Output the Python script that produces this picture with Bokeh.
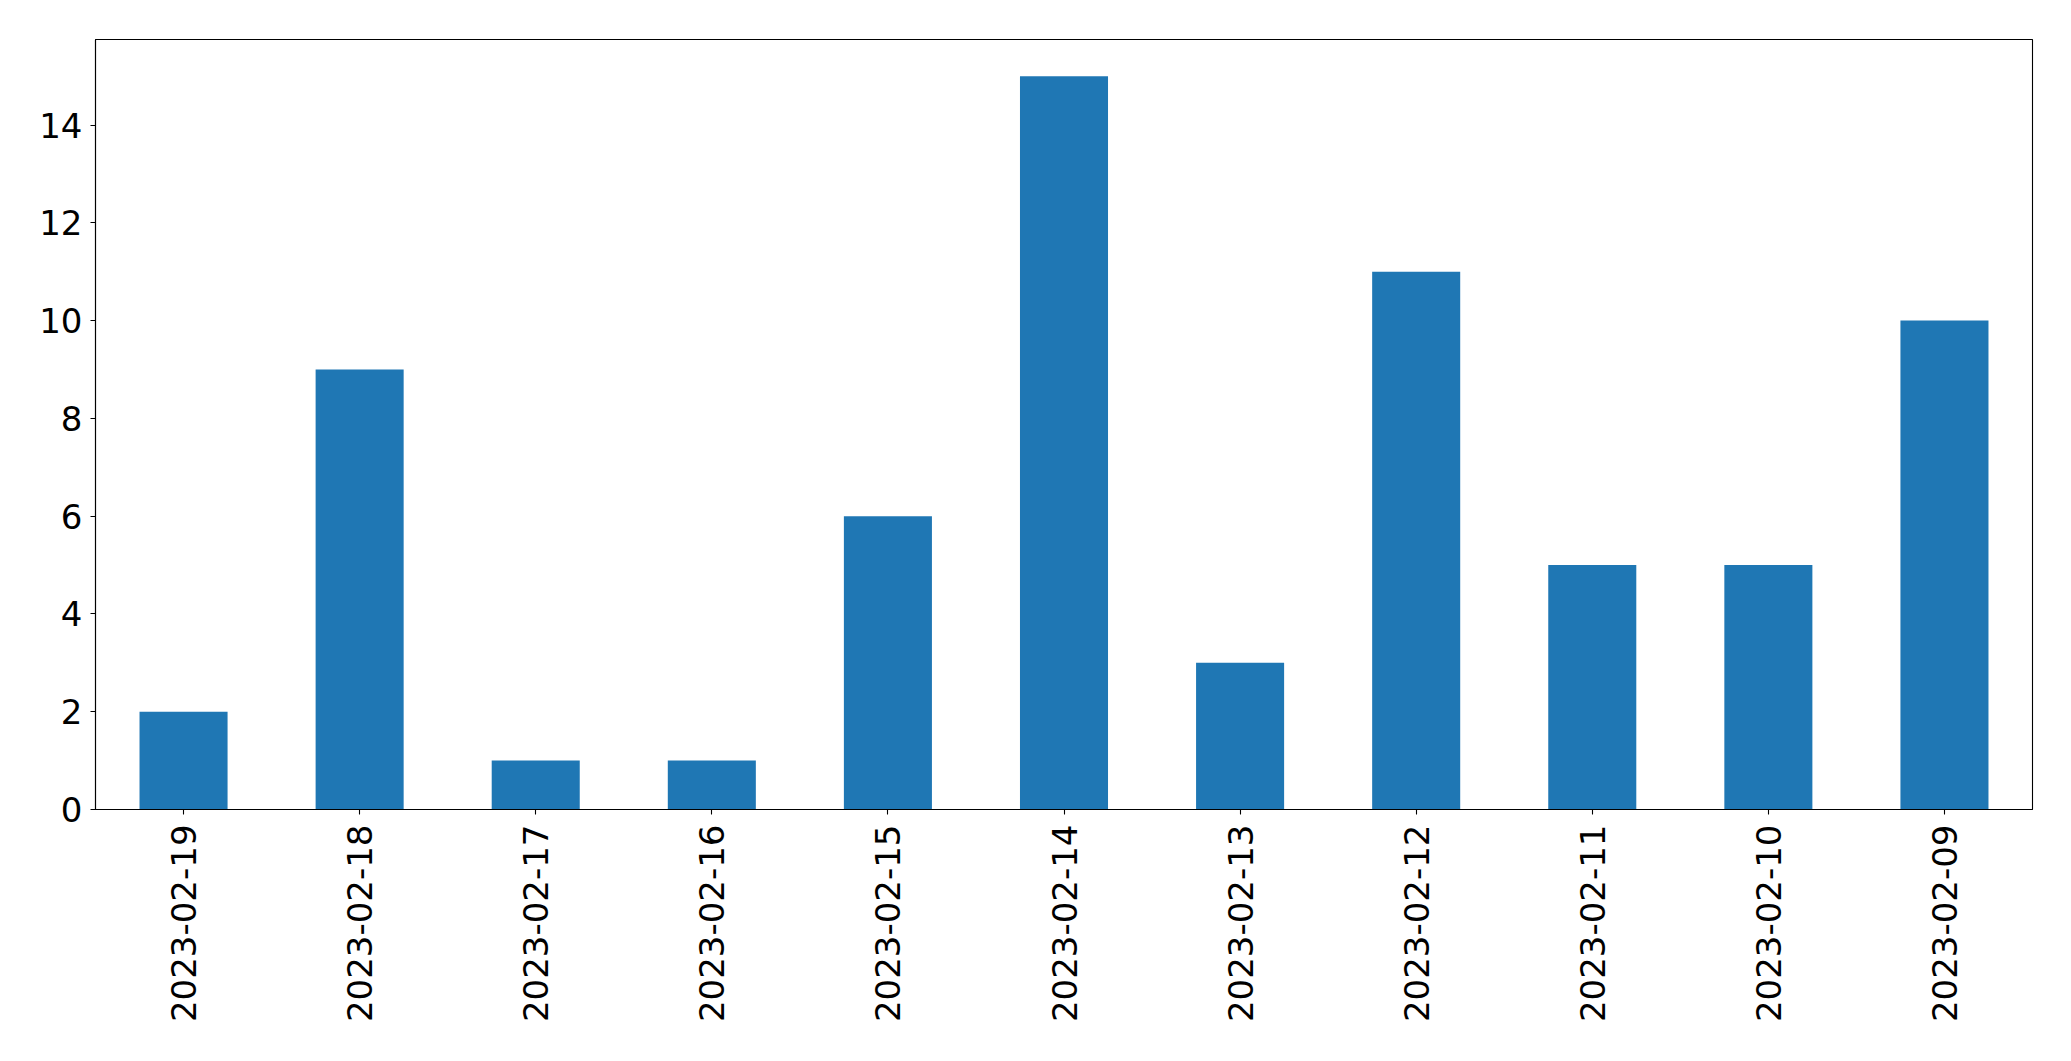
from bokeh.plotting import figure
from bokeh.models import Range1d, FactorRange, SingleIntervalTicker
from bokeh.embed import file_html
from bokeh.resources import INLINE
import math

dates = ["2023-02-19", "2023-02-18", "2023-02-17", "2023-02-16", "2023-02-15",
         "2023-02-14", "2023-02-13", "2023-02-12", "2023-02-11", "2023-02-10",
         "2023-02-09"]
counts = [2, 9, 1, 1, 6, 15, 3, 11, 5, 5, 10]

p = figure(width=2063, height=1048, output_backend="svg", toolbar_location=None,
           x_range=FactorRange(factors=dates), y_range=Range1d(0, 15.75))
p.min_border_left = 95
p.min_border_top = 39
p.min_border_right = 31
p.min_border_bottom = 239

p.vbar(x=dates, top=counts, width=0.5, color="#1f77b4", line_color=None)

p.xgrid.visible = False
p.ygrid.visible = False
p.outline_line_color = "black"
p.outline_line_width = 1.1
p.outline_line_alpha = 1

p.yaxis.ticker = SingleIntervalTicker(interval=2)
p.yaxis.minor_tick_line_color = None

for ax in (p.xaxis[0], p.yaxis[0]):
    ax.major_label_text_font = "DejaVu Sans"
    ax.major_label_text_font_size = "34px"
    ax.major_label_text_color = "black"
    ax.axis_line_color = "black"
    ax.axis_line_width = 1.1
    ax.major_tick_line_color = "black"
    ax.major_tick_line_width = 1.1
    ax.major_tick_out = 5
    ax.major_tick_in = 0

p.yaxis.major_label_standoff = 8
p.xaxis.major_label_standoff = 10
p.xaxis.major_label_orientation = math.pi / 2

p.background_fill_color = "white"
p.border_fill_color = "white"

open("out.html", "w").write(file_html(p, INLINE))
